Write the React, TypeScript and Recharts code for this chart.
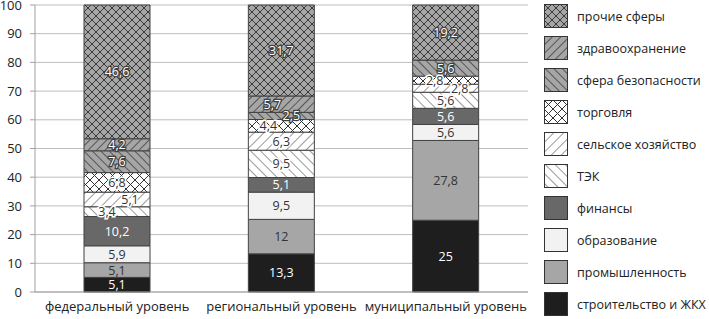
import React from 'react';
import { BarChart, Bar, XAxis, YAxis, CartesianGrid, LabelList } from 'recharts';

// values in %, bottom to top of each stack
const levels = ['федеральный уровень', 'региональный уровень', 'муниципальный уровень'];
const construction = [5.1, 13.3, 25];
const industry = [5.1, 12, 27.8];
const education = [5.9, 9.5, 5.6];
const finance = [10.2, 5.1, 5.6];
const energy = [3.4, 9.5, 5.6];
const agriculture = [5.1, 6.3, 2.8];
const trade = [6.8, 4.4, 2.8];
const security = [7.6, 2.5, 5.6];
const healthcare = [4.2, 5.7, 0];
const other = [46.6, 31.7, 19.2];
const yTicks = [0, 10, 20, 30, 40, 50, 60, 70, 80, 90, 100];

const series = [
  { key: 'construction', name: 'строительство и ЖКХ', values: construction, fill: '#1e1e1e', label: 'white' },
  { key: 'industry', name: 'промышленность', values: industry, fill: '#a6a6a6', label: 'dark' },
  { key: 'education', name: 'образование', values: education, fill: '#f2f2f2', label: 'dark' },
  { key: 'finance', name: 'финансы', values: finance, fill: '#686868', label: 'white' },
  { key: 'energy', name: 'ТЭК', values: energy, fill: 'url(#p-energy)', label: 'halo' },
  { key: 'agriculture', name: 'сельское хозяйство', values: agriculture, fill: 'url(#p-agri)', label: 'halo' },
  { key: 'trade', name: 'торговля', values: trade, fill: 'url(#p-trade)', label: 'halo' },
  { key: 'security', name: 'сфера безопасности', values: security, fill: 'url(#p-security)', label: 'outline' },
  { key: 'healthcare', name: 'здравоохранение', values: healthcare, fill: 'url(#p-health)', label: 'outline' },
  { key: 'other', name: 'прочие сферы', values: other, fill: 'url(#p-other)', label: 'outline' },
];

// horizontal nudges for labels on thin segments (like the original)
const labelShift: Record<string, number[]> = {
  energy: [-10, 0, 0],
  agriculture: [13, 0, 14],
  trade: [0, -13, -11],
  security: [0, 10, 0],
  healthcare: [0, -9, 0],
};

const data = levels.map((name, i) => {
  const row: Record<string, any> = { name };
  series.forEach((s) => (row[s.key] = s.values[i]));
  return row;
});

const FONT = '"Open Sans", sans-serif';

const makeLabel = (key: string, kind: string) => (props: any) => {
  const { x, y, width, height, value, index } = props;
  if (!value) return null;
  const dx = labelShift[key] ? labelShift[key][index] || 0 : 0;
  const cx = Number(x) + Number(width) / 2 + dx;
  const cy = Number(y) + Number(height) / 2;
  let fill = '#333';
  let stroke = 'none';
  let sw = 0;
  if (kind === 'white') fill = '#ffffff';
  if (kind === 'halo') { fill = '#333'; stroke = '#ffffff'; sw = 3; }
  if (kind === 'outline') { fill = '#ffffff'; stroke = '#404040'; sw = 2.5; }
  return (
    <text x={cx} y={cy} textAnchor="middle" dominantBaseline="central" fontSize={12.5}
      fontFamily={FONT} fill={fill} stroke={stroke} strokeWidth={sw} style={{ paintOrder: 'stroke' }}>
      {String(value).replace('.', ',')}
    </text>
  );
};

const Patterns = () => (
  <defs>
    <pattern id="p-other" width="8" height="8" patternUnits="userSpaceOnUse">
      <rect width="8" height="8" fill="#a6a6a6" />
      <path d="M0,0 L8,8 M8,0 L0,8" stroke="#3a3a3a" strokeWidth="1" />
    </pattern>
    <pattern id="p-trade" width="9" height="9" patternUnits="userSpaceOnUse">
      <rect width="9" height="9" fill="#ffffff" />
      <path d="M0,0 L9,9 M9,0 L0,9" stroke="#333" strokeWidth="1" />
    </pattern>
    <pattern id="p-health" width="6" height="6" patternUnits="userSpaceOnUse" patternTransform="rotate(45)">
      <rect width="6" height="6" fill="#a6a6a6" />
      <line x1="0" y1="0" x2="0" y2="6" stroke="#3a3a3a" strokeWidth="1.5" />
    </pattern>
    <pattern id="p-security" width="6" height="6" patternUnits="userSpaceOnUse" patternTransform="rotate(-45)">
      <rect width="6" height="6" fill="#a6a6a6" />
      <line x1="0" y1="0" x2="0" y2="6" stroke="#3a3a3a" strokeWidth="1.5" />
    </pattern>
    <pattern id="p-agri" width="7" height="7" patternUnits="userSpaceOnUse" patternTransform="rotate(45)">
      <rect width="7" height="7" fill="#ffffff" />
      <line x1="0" y1="0" x2="0" y2="7" stroke="#333" strokeWidth="1" />
    </pattern>
    <pattern id="p-energy" width="7" height="7" patternUnits="userSpaceOnUse" patternTransform="rotate(-45)">
      <rect width="7" height="7" fill="#ffffff" />
      <line x1="0" y1="0" x2="0" y2="7" stroke="#333" strokeWidth="1" />
    </pattern>
  </defs>
);

export default function App() {
  const legendItems = [...series].reverse();
  return (
    <div style={{ position: 'absolute', left: 0, top: 0, width: 709, height: 319, background: '#fff', fontFamily: FONT }}>
      <BarChart width={709} height={319} data={data} margin={{ top: 5, right: 181, left: 0, bottom: 0 }}
        barSize={66}>
        <Patterns />
        <CartesianGrid vertical={false} stroke="#bdbdbd" />
        <XAxis dataKey="name" height={27} tickLine={false} tickMargin={4} axisLine={{ stroke: '#a0a0a0' }}
          tick={{ fontSize: 13, fill: '#222', fontFamily: FONT }} />
        <YAxis width={35} domain={[0, 100]} ticks={yTicks} interval={0} tickSize={5} tickMargin={8}
          axisLine={{ stroke: '#a0a0a0' }} tickLine={{ stroke: '#a0a0a0' }}
          tick={{ fontSize: 13, fill: '#222', fontFamily: FONT }} />
        {series.map((s) => (
          <Bar key={s.key} dataKey={s.key} name={s.name} stackId="a" fill={s.fill}
            stroke="#404040" strokeWidth={1} isAnimationActive={false}>
            <LabelList dataKey={s.key} content={makeLabel(s.key, s.label)} />
          </Bar>
        ))}
      </BarChart>
      <div style={{ position: 'absolute', left: 544, top: 0 }}>
        {legendItems.map((s, i) => (
          <div key={s.key} style={{ position: 'absolute', top: 16 + 32 * i - 12, left: 0, display: 'flex',
            alignItems: 'center', whiteSpace: 'nowrap', height: 24 }}>
            <svg width={24} height={24} style={{ display: 'block' }}>
              <rect x={0.5} y={0.5} width={23} height={23} fill={s.fill} stroke="#333" strokeWidth={1} />
            </svg>
            <span style={{ marginLeft: 9, fontSize: 12.5, color: '#222' }}>{s.name}</span>
          </div>
        ))}
      </div>
    </div>
  );
}
